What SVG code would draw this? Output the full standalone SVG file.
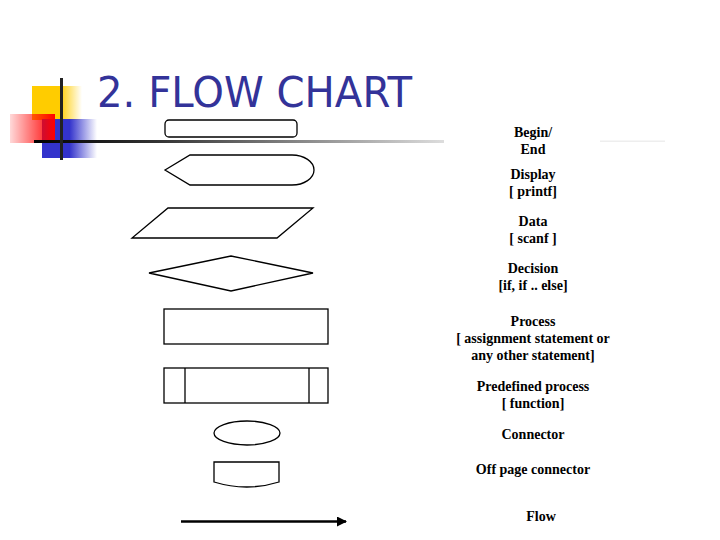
<svg xmlns="http://www.w3.org/2000/svg" width="720" height="540" viewBox="0 0 720 540">
<defs>
<linearGradient id="gy" x1="0" y1="0" x2="1" y2="0"><stop offset="0" stop-color="#FFCC00"/><stop offset="0.55" stop-color="#FFCC00"/><stop offset="1" stop-color="#FFCC00" stop-opacity="0"/></linearGradient>
<linearGradient id="gr" x1="0" y1="0" x2="1" y2="0"><stop offset="0" stop-color="#FF0000" stop-opacity="0.15"/><stop offset="1" stop-color="#FF0000"/></linearGradient>
<linearGradient id="gb" x1="0" y1="0" x2="1" y2="0"><stop offset="0" stop-color="#3333CC"/><stop offset="0.5" stop-color="#3333CC"/><stop offset="1" stop-color="#3333CC" stop-opacity="0"/></linearGradient>
<linearGradient id="gl" x1="0" y1="0" x2="1" y2="0"><stop offset="0" stop-color="#000"/><stop offset="0.3" stop-color="#333"/><stop offset="1" stop-color="#ddd"/></linearGradient>
<marker id="ah" viewBox="0 0 10 10" refX="9" refY="5" markerWidth="4" markerHeight="4" orient="auto"><path d="M0,0 L10,5 L0,10 z" fill="#000"/></marker>
</defs>
<style>
.s{fill:#fff;stroke:#000;stroke-width:1.3}
.t{font-family:"Liberation Serif","Times New Roman",serif;font-weight:bold;font-size:14px;text-anchor:middle;fill:#000}
</style>
<rect width="720" height="540" fill="#fff"/>
<g id="decor">
<rect x="32" y="86" width="50" height="34" fill="url(#gy)"/>
<rect x="42" y="119" width="55" height="39" fill="url(#gb)"/>
<rect x="10" y="114" width="45" height="29" fill="url(#gr)"/>
<rect x="34" y="140" width="410" height="3" fill="url(#gl)"/>
<rect x="600" y="140.5" width="65" height="1.5" fill="#eee"/>
<rect x="60" y="78" width="3" height="82" fill="#222"/>
</g>
<text x="97" y="107" font-family="'DejaVu Sans',Tahoma,sans-serif" font-size="42" fill="#333399" textLength="315" lengthAdjust="spacingAndGlyphs">2. FLOW CHART</text>
<g id="terminal"><rect class="s" x="165" y="120" width="132" height="17" rx="4"/></g>
<g id="display"><path class="s" d="M165,170 L190,155 L292,155 A22,15 0 0 1 292,185 L190,185 Z"/></g>
<g id="data"><path class="s" d="M168,208 L313,208 L277,238 L132,238 Z"/></g>
<g id="decision"><path class="s" d="M149,273 L231,256 L313,273 L231,291 Z"/></g>
<g id="process"><rect class="s" x="164" y="309" width="164" height="35"/></g>
<g id="predefined"><rect class="s" x="164" y="368" width="164" height="35"/><line class="s" x1="185" y1="368" x2="185" y2="403"/><line class="s" x1="309" y1="368" x2="309" y2="403"/></g>
<g id="connector"><ellipse class="s" cx="247" cy="433" rx="33" ry="12"/></g>
<g id="offpage"><path class="s" d="M214,462 L279,462 L279,482 Q247,492 214,482 Z"/></g>
<g id="connectors"><line x1="181" y1="521.5" x2="346" y2="521.5" stroke="#000" stroke-width="2.5" marker-end="url(#ah)"/></g>
<g id="labels">
<text class="t" x="533" y="137">Begin/</text>
<text class="t" x="533" y="154">End</text>
<text class="t" x="533" y="179">Display</text>
<text class="t" x="533" y="196">[ printf]</text>
<text class="t" x="533" y="226">Data</text>
<text class="t" x="533" y="243">[ scanf ]</text>
<text class="t" x="533" y="273">Decision</text>
<text class="t" x="533" y="290">[if, if .. else]</text>
<text class="t" x="533" y="326">Process</text>
<text class="t" x="533" y="343">[ assignment statement or</text>
<text class="t" x="533" y="360">any other statement]</text>
<text class="t" x="533" y="391">Predefined process</text>
<text class="t" x="533" y="408">[ function]</text>
<text class="t" x="533" y="439">Connector</text>
<text class="t" x="533" y="474">Off page connector</text>
<text class="t" x="541" y="521">Flow</text>
</g>
</svg>
